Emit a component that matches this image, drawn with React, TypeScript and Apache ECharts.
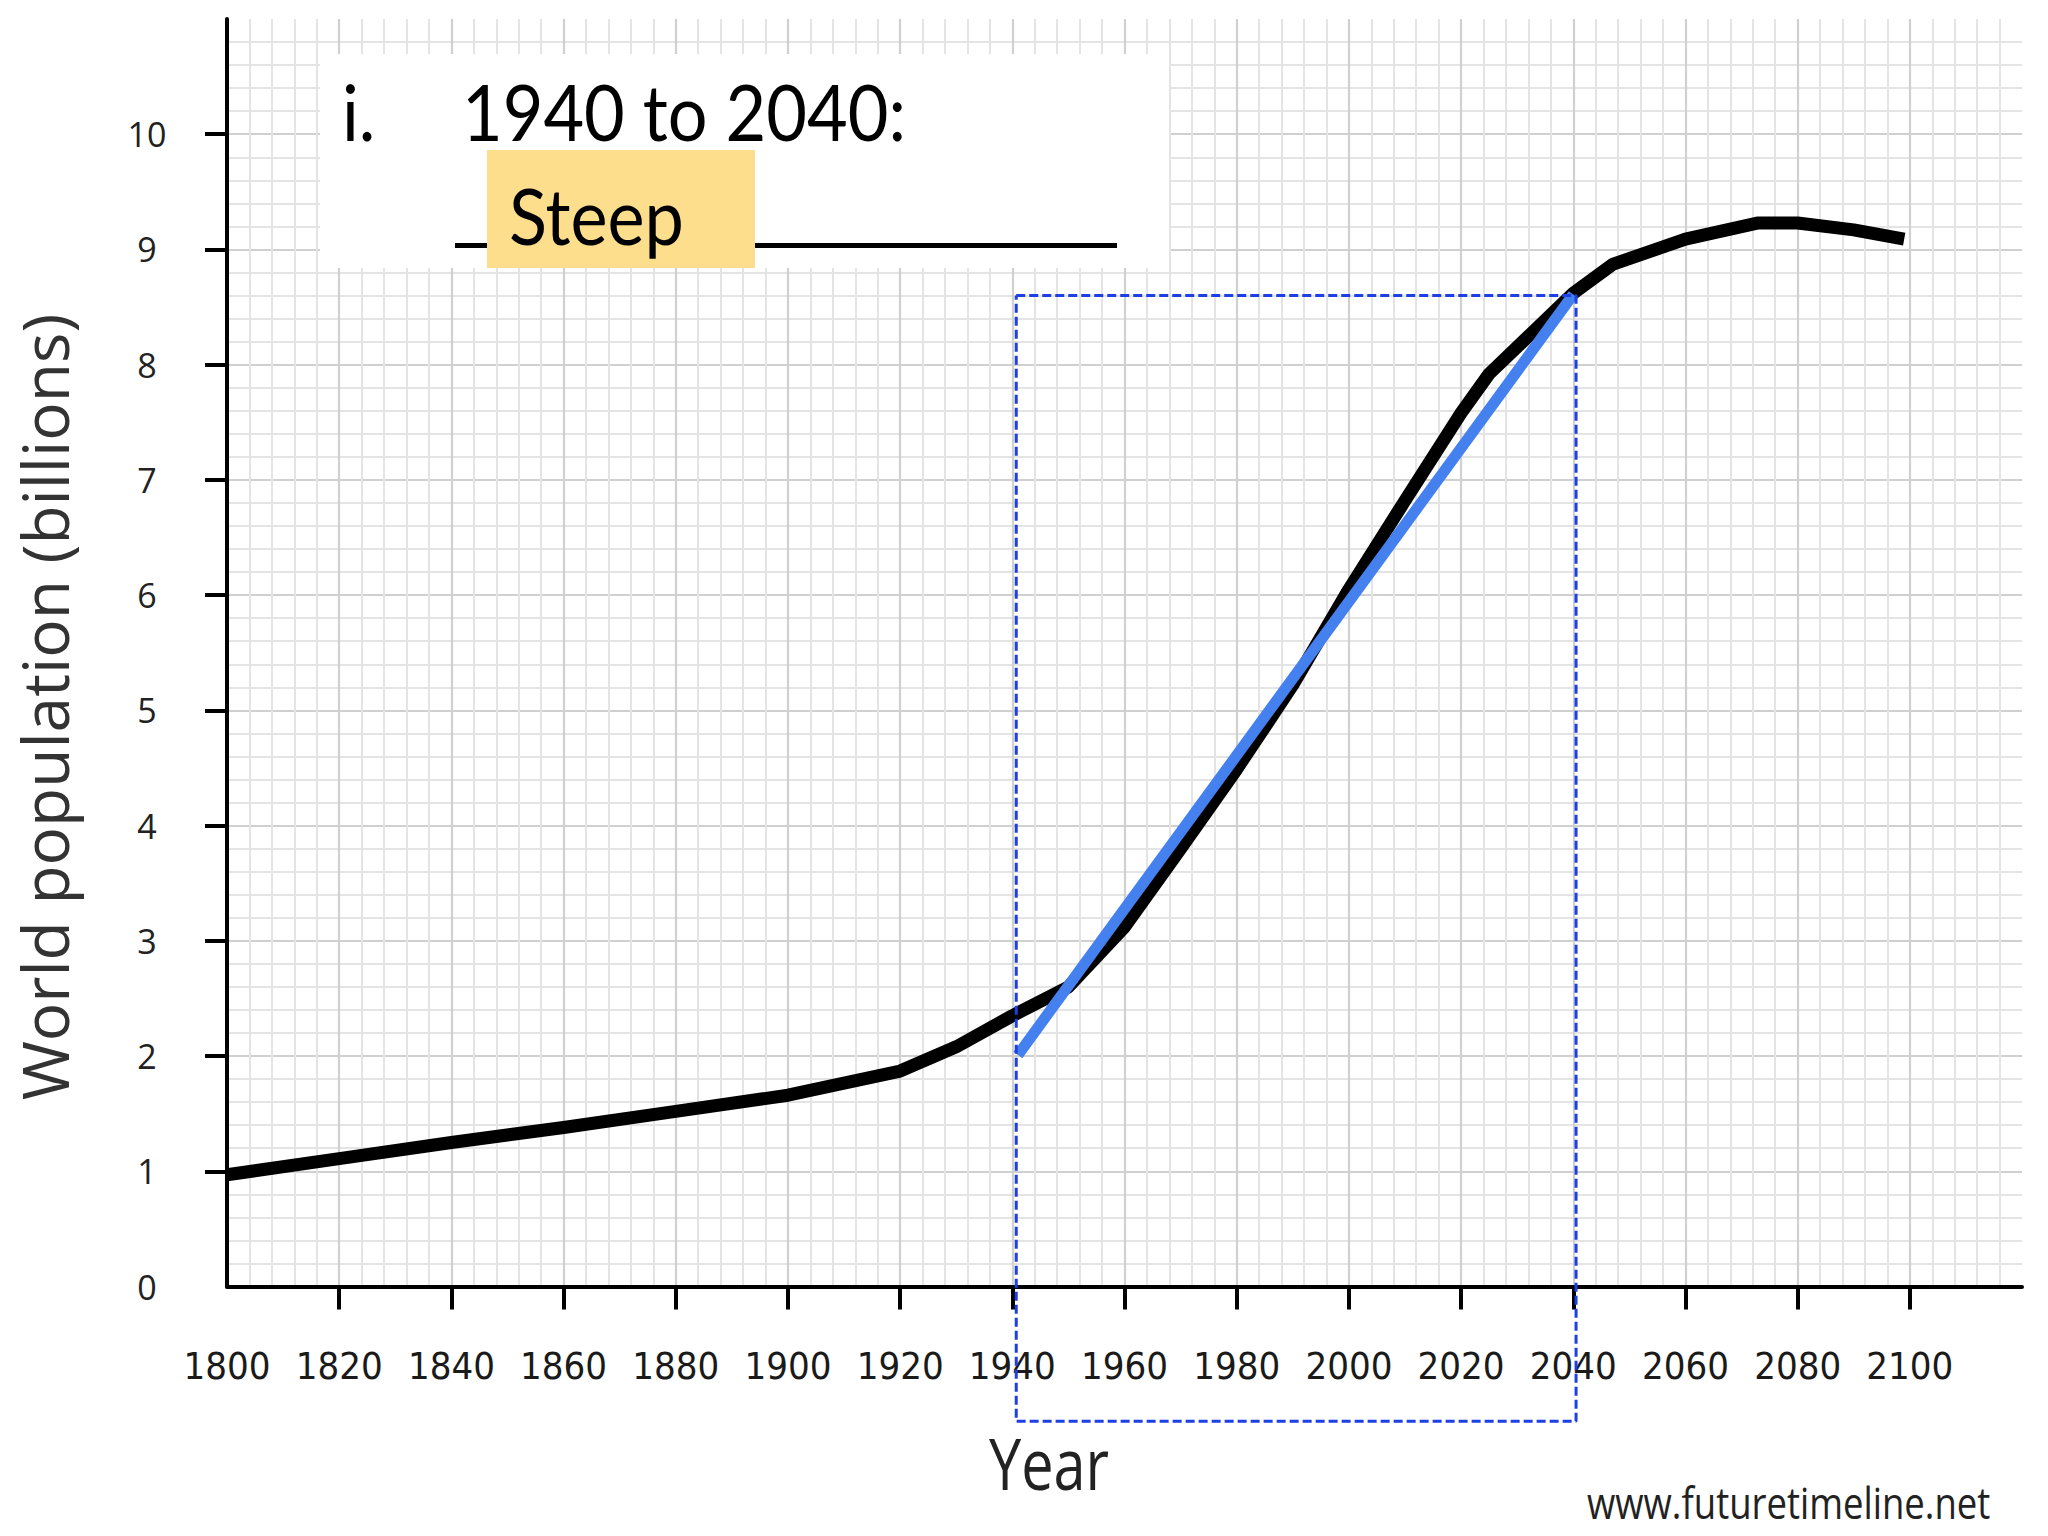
import React, { useEffect, useRef } from "react";
import * as echarts from "echarts";

// ---- data ----
const years = [1800, 1820, 1840, 1860, 1880, 1900, 1920, 1930, 1940, 1950, 1960, 1970, 1980, 1990, 2000, 2010, 2020, 2025, 2040, 2047, 2060, 2073, 2080, 2090, 2099];
const population = [0.97, 1.11, 1.25, 1.38, 1.52, 1.66, 1.87, 2.08, 2.35, 2.6, 3.12, 3.8, 4.49, 5.22, 6.05, 6.82, 7.58, 7.92, 8.62, 8.87, 9.09, 9.23, 9.23, 9.17, 9.09];

const trendYears = [1941, 2040];
const trendValues = [2.01, 8.61];

const boxYears = [1940.7, 2040.5];
const boxValues = [8.6, -1.17];

const xTickLabels = [1800, 1820, 1840, 1860, 1880, 1900, 1920, 1940, 1960, 1980, 2000, 2020, 2040, 2060, 2080, 2100];
const xTickMarks = [1820, 1840, 1860, 1880, 1900, 1920, 1940, 1960, 1980, 2000, 2020, 2040, 2060, 2080, 2100];
const yTickLabels = [0, 1, 2, 3, 4, 5, 6, 7, 8, 9, 10];
const yTickMarks = [1, 2, 3, 4, 5, 6, 7, 8, 9, 10];

const titleLine = "1940 to 2040:";
const titleIndex = "i.";
const answerText = "Steep";
const xAxisTitle = "Year";
const yAxisTitle = "World population (billions)";
const sourceText = "www.futuretimeline.net";

const CONDENSED = "'DejaVu Sans Condensed', 'DejaVu Sans', sans-serif";

export default function App() {
  const ref = useRef<HTMLDivElement>(null);

  useEffect(() => {
    if (!ref.current) return;
    const chart = echarts.init(ref.current, undefined, { renderer: "svg" });

    const lineData = years.map((y, i) => [y, population[i]]);
    const trendData = trendYears.map((y, i) => [y, trendValues[i]]);
    const boxData = [
      [boxYears[0], boxValues[0]],
      [boxYears[1], boxValues[0]],
      [boxYears[1], boxValues[1]],
      [boxYears[0], boxValues[1]],
      [boxYears[0], boxValues[0]],
    ];

    const option: any = {
      animation: false,
      backgroundColor: "#ffffff",
      grid: {
        left: 227,
        top: 19,
        right: 26,
        bottom: 249.5,
        containLabel: false,
        outerBoundsMode: "none",
      },
      xAxis: {
        type: "value",
        min: 1800,
        max: 2120,
        interval: 20,
        axisLine: { show: true, onZero: false, lineStyle: { color: "#000", width: 4 } },
        axisTick: {
          show: true,
          inside: false,
          length: 23,
          customValues: xTickMarks,
          lineStyle: { color: "#000", width: 4 },
        },
        axisLabel: {
          show: true,
          customValues: xTickLabels,
          margin: 60,
          fontFamily: CONDENSED,
          fontSize: 38,
          color: "#1a1a1a",
          formatter: (v: number) => String(v),
        },
        minorTick: { show: false, splitNumber: 5 },
        splitLine: { show: true, lineStyle: { color: "#d0d0d0", width: 2.2 } },
        minorSplitLine: { show: true, lineStyle: { color: "#e4e4e4", width: 2 } },
      },
      yAxis: {
        type: "value",
        min: 0,
        max: 11,
        interval: 1,
        axisLine: { show: true, onZero: false, lineStyle: { color: "#000", width: 4 } },
        axisTick: {
          show: true,
          inside: false,
          length: 22,
          customValues: yTickMarks,
          lineStyle: { color: "#000", width: 4 },
        },
        axisLabel: {
          show: true,
          customValues: yTickLabels,
          margin: 80,
          align: "center",
          fontFamily: "'Open Sans', sans-serif",
          fontSize: 34,
          color: "#222",
        },
        minorTick: { show: false, splitNumber: 5 },
        splitLine: { show: true, lineStyle: { color: "#d0d0d0", width: 2.2 } },
        minorSplitLine: { show: true, lineStyle: { color: "#e4e4e4", width: 2 } },
      },
      series: [
        {
          type: "line",
          data: lineData,
          showSymbol: false,
          symbol: "none",
          smooth: false,
          z: 3,
          lineStyle: { color: "#000", width: 13, cap: "butt", join: "round" },
        },
        {
          type: "line",
          data: trendData,
          showSymbol: false,
          symbol: "none",
          z: 4,
          lineStyle: { color: "#4580ef", width: 11, cap: "butt" },
        },
        {
          type: "line",
          data: boxData,
          showSymbol: false,
          symbol: "none",
          clip: false,
          z: 5,
          lineStyle: { color: "#1d3fe4", width: 3, type: [9, 4] },
        },
      ],
      graphic: [
        {
          type: "rect",
          z: 10,
          shape: { x: 320, y: 54, width: 849, height: 214 },
          style: { fill: "#ffffff" },
        },
        {
          type: "line",
          z: 11,
          shape: { x1: 455, y1: 245.5, x2: 1117, y2: 245.5 },
          style: { stroke: "#000", lineWidth: 5 },
        },
        {
          type: "rect",
          z: 12,
          shape: { x: 487, y: 150, width: 268, height: 118 },
          style: { fill: "#fdde8c" },
        },
        {
          type: "text",
          z: 13,
          x: 342,
          y: 111,
          scaleX: 0.9,
          style: {
            text: titleIndex,
            font: "78px Lato, sans-serif",
            fill: "#000",
            verticalAlign: "middle",
            align: "left",
          },
        },
        {
          type: "text",
          z: 13,
          x: 462,
          y: 111,
          scaleX: 0.9,
          style: {
            text: titleLine,
            font: "78px Lato, sans-serif",
            fill: "#000",
            verticalAlign: "middle",
            align: "left",
          },
        },
        {
          type: "text",
          z: 13,
          x: 509,
          y: 215,
          scaleX: 0.9,
          style: {
            text: answerText,
            font: "78px Lato, sans-serif",
            fill: "#000",
            verticalAlign: "middle",
            align: "left",
          },
        },
        {
          type: "text",
          z: 13,
          x: 44,
          y: 707,
          rotation: Math.PI / 2,
          style: {
            text: yAxisTitle,
            font: "64px 'Open Sans', sans-serif",
            fill: "#333",
            verticalAlign: "middle",
            align: "center",
          },
        },
        {
          type: "text",
          z: 13,
          x: 989,
          y: 1462,
          scaleX: 0.8,
          style: {
            text: xAxisTitle,
            font: "72px 'Open Sans', sans-serif",
            fill: "#222",
            verticalAlign: "middle",
            align: "left",
          },
        },
        {
          type: "text",
          z: 13,
          x: 1587,
          y: 1502,
          scaleX: 0.83,
          style: {
            text: sourceText,
            font: "44px 'Open Sans', sans-serif",
            fill: "#222",
            verticalAlign: "middle",
            align: "left",
          },
        },
      ],
    };

    chart.setOption(option);
    return () => chart.dispose();
  }, []);

  return (
    <div
      ref={ref}
      style={{ position: "absolute", left: 0, top: 0, width: 2048, height: 1536, background: "#fff" }}
    />
  );
}
